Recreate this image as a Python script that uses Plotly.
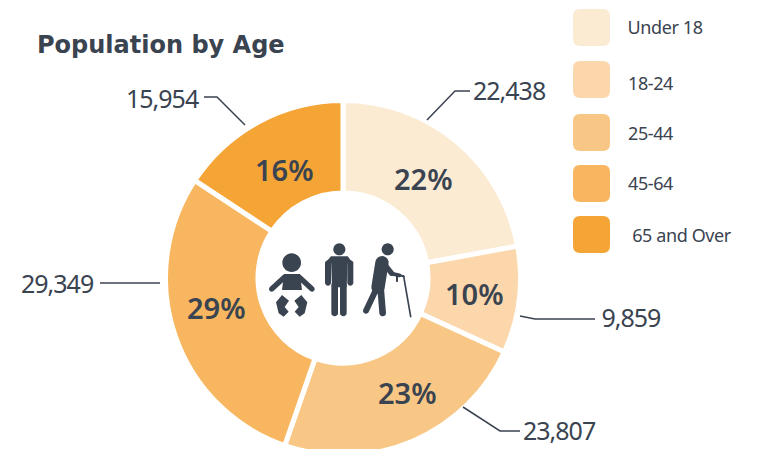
import math
import plotly.graph_objects as go

categories = ["Under 18", "18-24", "25-44", "45-64", "65 and Over"]
values = [22438, 9859, 23807, 29349, 15954]
percent_labels = ["22%", "10%", "23%", "29%", "16%"]
colors = ["#FCEBD3", "#FCD7AB", "#F8C785", "#F7B65F", "#F5A536"]
INK = "#3A4350"
W, H = 761, 456
LABEL_FONT = "Noto Sans"


def z(p):
    return (250 + p[0] / 3, 230 + p[1] / 3)


def poly(points):
    pts = [z(p) for p in points]
    return "M" + " L".join(f"{x:.2f},{y:.2f}" for x, y in pts) + " Z"


def capsule(a, b, r):
    ang = math.atan2(b[1] - a[1], b[0] - a[0])
    pts = []
    for i in range(9):
        t = ang + math.pi / 2 + math.pi * i / 8
        pts.append((a[0] + r * math.cos(t), a[1] + r * math.sin(t)))
    for i in range(9):
        t = ang - math.pi / 2 + math.pi * i / 8
        pts.append((b[0] + r * math.cos(t), b[1] + r * math.sin(t)))
    return poly(pts)


def circle(c, r):
    pts = [(c[0] + r * math.cos(i * math.pi / 16), c[1] + r * math.sin(i * math.pi / 16)) for i in range(32)]
    return poly(pts)


def rrect(x0, y0, x1, y1, r):
    return (f"M{x0+r},{y0} L{x1-r},{y0} Q{x1},{y0} {x1},{y0+r} L{x1},{y1-r} Q{x1},{y1} {x1-r},{y1} "
            f"L{x0+r},{y1} Q{x0},{y1} {x0},{y1-r} L{x0},{y0+r} Q{x0},{y0} {x0+r},{y0} Z")


icons = [
    # baby
    circle((125, 98), 28),
    poly([(102, 132), (150, 132), (156, 180), (96, 180)]),
    capsule((104, 141), (65, 177), 8),
    capsule((147, 141), (186, 177), 8),
    poly([(78, 217), (96, 195), (117, 212), (104, 231), (116, 245), (101, 260), (86, 250)]),
    poly([(172, 217), (154, 195), (133, 212), (146, 231), (134, 245), (149, 260), (164, 250)]),
    # man
    circle((268, 58), 18),
    poly([(243, 79), (293, 79), (309, 100), (225, 100)]),
    capsule((234, 100), (234, 158), 9),
    capsule((301, 100), (301, 158), 9),
    poly([(243, 85), (293, 85), (290, 172), (246, 172)]),
    capsule((254, 165), (254, 249), 10),
    capsule((280, 165), (280, 249), 10),
    # elder
    circle((413, 58), 18),
    capsule((396, 98), (384, 172), 20),
    capsule((405, 105), (425, 130), 8),
    capsule((425, 131), (448, 136), 6),
    capsule((441, 136), (441, 153), 3),
    capsule((375, 185), (348, 242), 9),
    capsule((392, 175), (398, 249), 10),
    capsule((447, 136), (461, 139), 3),
    capsule((461, 139), (482, 260), 2.5),
]

fig = go.Figure()
fig.add_trace(go.Pie(
    labels=categories, values=values, textinfo="none",
    sort=False, direction="clockwise", rotation=0, hole=0.479, showlegend=False,
    marker=dict(colors=colors, line=dict(color="white", width=5)),
    domain=dict(x=[165.5 / W, 520.5 / W], y=[(H - 455.5) / H, (H - 100.5) / H]),
    hoverinfo="label+value",
))

shapes = []
for d in icons:
    shapes.append(dict(type="path", path=d, xref="x", yref="y", fillcolor=INK, line=dict(width=0), layer="above"))

leaders = [
    [(427, 120), (455, 91), (470, 91)],
    [(520, 316), (535, 319), (595, 319)],
    [(463, 407), (500, 431), (520, 431)],
    [(100, 283), (160, 283)],
    [(245, 125), (217, 97), (204, 97)],
]
for pts in leaders:
    shapes.append(dict(type="path", path="M" + " L".join(f"{x},{y}" for x, y in pts),
                       xref="x", yref="y", line=dict(color=INK, width=1.5)))

swatch_y = [9, 61, 114, 165, 216]
for c, y in zip(colors, swatch_y):
    shapes.append(dict(type="path", path=rrect(573, y, 610, y + 37, 7), xref="x", yref="y",
                       fillcolor=c, line=dict(width=0)))

ann = []
value_pos = [(468, 90, "left"), (597, 317, "left"), (518, 430, "left"), (98, 283, "right"), (203, 98, "right")]
for v, (x, y, a) in zip(values, value_pos):
    ann.append(dict(x=x, y=y, xref="x", yref="y", text=f"{v:,}", showarrow=False, xanchor=a, yanchor="middle",
                    font=dict(family=LABEL_FONT, size=25, color=INK, weight=400)))
percent_pos = [(423, 178), (474, 293), (407, 392), (216, 307), (284, 169)]
for t, (x, y) in zip(percent_labels, percent_pos):
    ann.append(dict(x=x, y=y, xref="x", yref="y", text=t, showarrow=False, xanchor="center", yanchor="middle",
                    font=dict(family=LABEL_FONT, size=29, color=INK, weight=600)))
legend_pos = [(624, 27), (625, 83), (625, 133), (625, 183), (628, 235)]
for c, (x, y) in zip(categories, legend_pos):
    ann.append(dict(x=x, y=y, xref="x", yref="y", text=c, showarrow=False, xanchor="left", yanchor="middle",
                    font=dict(family=LABEL_FONT, size=18, color=INK)))
ann.append(dict(x=35, y=45, xref="x", yref="y", text="<b>Population by Age</b>", showarrow=False,
                xanchor="left", yanchor="middle", font=dict(family="DejaVu Sans", size=24, color=INK)))

fig.update_layout(
    width=W, height=H, margin=dict(l=0, r=0, t=0, b=0), paper_bgcolor="white", plot_bgcolor="rgba(0,0,0,0)",
    xaxis=dict(range=[0, W], visible=False, fixedrange=True, domain=[0, 1]),
    yaxis=dict(range=[H, 0], visible=False, fixedrange=True, domain=[0, 1]),
    shapes=shapes, annotations=ann,
)
post = """
document.body.style.margin='0';document.documentElement.style.overflow='hidden';document.body.style.overflow='hidden';
document.querySelectorAll('.annotation-text').forEach(function(t){
  var s=t.textContent;
  if(/^[0-9]+,[0-9]+$/.test(s)){t.style.letterSpacing='-1.0px';}
  else if(/^(Under|18-|25-|45-|65 )/.test(s)){t.style.letterSpacing='-0.4px';}
});
"""
fig.write_html("out.html", config=dict(displayModeBar=False), post_script=post)
